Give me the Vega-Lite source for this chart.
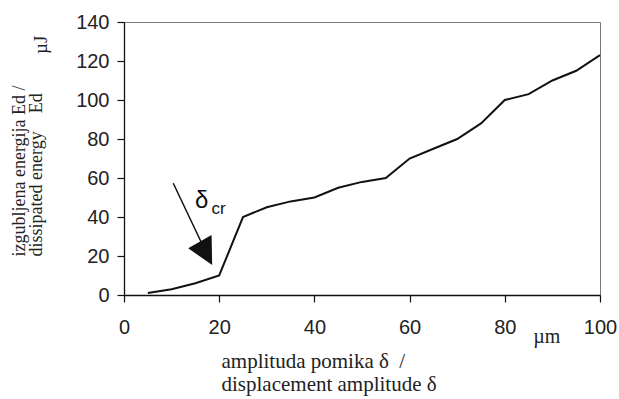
{
  "$schema": "https://vega.github.io/schema/vega-lite/v6.json",
  "width": 476,
  "height": 273,
  "autosize": {"type": "none"},
  "padding": {"left": 124, "top": 22, "right": 19, "bottom": 104},
  "background": "white",
  "config": {
    "view": {"stroke": "#777777", "strokeWidth": 1},
    "font": "Liberation Sans",
    "axis": {
      "grid": false,
      "domainColor": "#111111",
      "domainWidth": 1.3,
      "tickColor": "#111111",
      "tickWidth": 1.2,
      "tickSize": 7,
      "labelFont": "Liberation Sans",
      "labelFontSize": 20,
      "labelColor": "#222222",
      "labelOverlap": false,
      "labelFlush": false,
      "labelBound": false,
      "titleFont": "Liberation Serif",
      "titleFontWeight": "normal",
      "titleColor": "#222222"
    }
  },
  "datasets": {
    "energy": [
      {"amplitude": 5, "energy": 1},
      {"amplitude": 10, "energy": 3},
      {"amplitude": 15, "energy": 6},
      {"amplitude": 20, "energy": 10},
      {"amplitude": 25, "energy": 40},
      {"amplitude": 30, "energy": 45},
      {"amplitude": 35, "energy": 48},
      {"amplitude": 40, "energy": 50},
      {"amplitude": 45, "energy": 55},
      {"amplitude": 50, "energy": 58},
      {"amplitude": 55, "energy": 60},
      {"amplitude": 60, "energy": 70},
      {"amplitude": 65, "energy": 75},
      {"amplitude": 70, "energy": 80},
      {"amplitude": 75, "energy": 88},
      {"amplitude": 80, "energy": 100},
      {"amplitude": 85, "energy": 103},
      {"amplitude": 90, "energy": 110},
      {"amplitude": 95, "energy": 115},
      {"amplitude": 100, "energy": 123}
    ],
    "arrow": [{"amplitude": 10.35, "energy": 57.3, "amplitude2": 17.0, "energy2": 23.1}],
    "head": [{"amplitude": 16.8, "energy": 23.4}],
    "delta": [{"amplitude": 14.9, "energy": 44.5, "label": "δ"}],
    "sub": [{"amplitude": 18.4, "energy": 41.4, "label": "cr"}],
    "unitx": [{"amplitude": 88.8, "energy": -24.6, "label": "µm"}],
    "unity": [{"amplitude": -17.4, "energy": 128.3, "label": "µJ"}]
  },
  "layer": [
    {
      "data": {"name": "energy"},
      "mark": {"type": "line", "color": "#111111", "strokeWidth": 2},
      "encoding": {
        "x": {
          "field": "amplitude",
          "type": "quantitative",
          "scale": {"domain": [0, 100], "nice": false},
          "axis": {
            "values": [0, 20, 40, 60, 80, 100],
            "labelOverlap": false,
            "labelPadding": 15,
            "title": ["amplituda pomika δ\u00a0\u00a0/", "displacement amplitude δ"],
            "titleFontSize": 21,
            "titleAlign": "left",
            "titleBaseline": "alphabetic",
            "titleX": 97,
            "titleY": 72,
            "titleLineHeight": 23
          }
        },
        "y": {
          "field": "energy",
          "type": "quantitative",
          "scale": {"domain": [0, 140], "nice": false},
          "axis": {
            "values": [0, 20, 40, 60, 80, 100, 120, 140],
            "tickCount": 8,
            "labelOverlap": false,
            "labelPadding": 8,
            "title": ["izgubljena energija Ed /", "dissipated energy\u00a0\u00a0\u00a0\u00a0Ed"],
            "titleFontSize": 18,
            "titleAngle": 270,
            "titleAlign": "left",
            "titleBaseline": "alphabetic",
            "titleX": -100,
            "titleY": 234,
            "titleLineHeight": 17
          }
        }
      }
    },
    {
      "data": {"name": "arrow"},
      "mark": {"type": "rule", "color": "#111111", "strokeWidth": 1.5},
      "encoding": {
        "x": {"field": "amplitude", "type": "quantitative"},
        "y": {"field": "energy", "type": "quantitative"},
        "x2": {"field": "amplitude2"},
        "y2": {"field": "energy2"}
      }
    },
    {
      "data": {"name": "head"},
      "mark": {
        "type": "point",
        "shape": "M -0.79 -0.055 L 0.38 -0.72 L 0.41 0.78 Z",
        "size": 1600,
        "filled": true,
        "color": "#111111",
        "opacity": 1,
        "strokeWidth": 0
      },
      "encoding": {
        "x": {"field": "amplitude", "type": "quantitative"},
        "y": {"field": "energy", "type": "quantitative"}
      }
    },
    {
      "data": {"name": "delta"},
      "mark": {"type": "text", "font": "Liberation Sans", "fontSize": 24, "align": "left", "baseline": "alphabetic", "color": "#111111"},
      "encoding": {
        "x": {"field": "amplitude", "type": "quantitative"},
        "y": {"field": "energy", "type": "quantitative"},
        "text": {"field": "label"}
      }
    },
    {
      "data": {"name": "sub"},
      "mark": {"type": "text", "font": "Liberation Sans", "fontSize": 17, "align": "left", "baseline": "alphabetic", "color": "#111111"},
      "encoding": {
        "x": {"field": "amplitude", "type": "quantitative"},
        "y": {"field": "energy", "type": "quantitative"},
        "text": {"field": "label"}
      }
    },
    {
      "data": {"name": "unitx"},
      "mark": {"type": "text", "font": "Liberation Serif", "fontSize": 20, "align": "center", "baseline": "alphabetic", "color": "#222222"},
      "encoding": {
        "x": {"field": "amplitude", "type": "quantitative"},
        "y": {"field": "energy", "type": "quantitative"},
        "text": {"field": "label"}
      }
    },
    {
      "data": {"name": "unity"},
      "mark": {"type": "text", "font": "Liberation Serif", "fontSize": 19, "align": "center", "baseline": "middle", "angle": 270, "color": "#222222"},
      "encoding": {
        "x": {"field": "amplitude", "type": "quantitative"},
        "y": {"field": "energy", "type": "quantitative"},
        "text": {"field": "label"}
      }
    }
  ]
}
